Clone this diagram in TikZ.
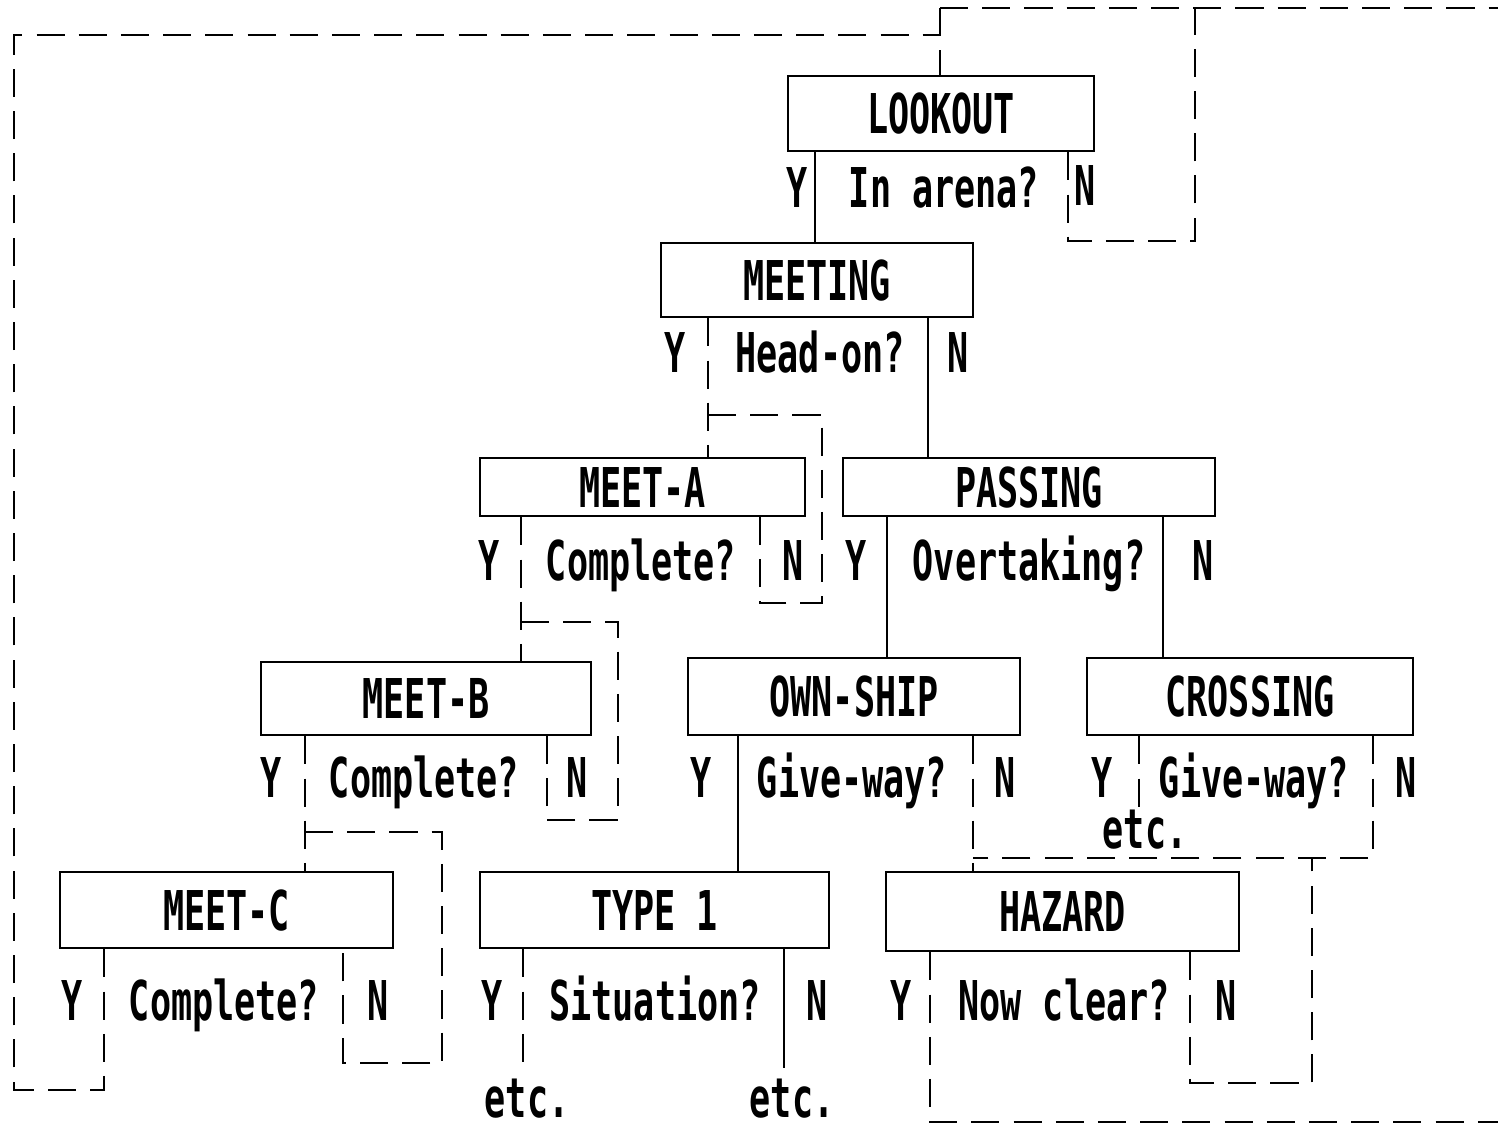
\documentclass[tikz,border=0pt]{standalone}
\usepackage{fontspec}
\newfontfamily\dmfont[FakeStretch=0.64]{DejaVu Sans Mono Bold}
\begin{document}
\begin{tikzpicture}[x=0.01cm,y=-0.01cm,
  box/.style={draw,line width=0.75pt,inner sep=0pt,font=\dmfont\fontsize{15.6}{16}\selectfont,text height=0.4cm,text depth=0pt},
  lbl/.style={inner sep=0pt,font=\dmfont\fontsize{15.6}{16}\selectfont,text height=0.4cm,text depth=0pt,anchor=center},
  sl/.style={line width=0.6pt},
  dl/.style={line width=0.6pt,dash pattern=on 8pt off 4pt}]
\useasboundingbox (0,0) rectangle (1498,1125);
% boxes
\node[box,minimum width=3.06cm,minimum height=0.75cm] (lookout) at (941,113.5) {LOOKOUT};
\node[box,minimum width=3.12cm,minimum height=0.74cm] (meeting) at (817,280) {MEETING};
\node[box,minimum width=3.25cm,minimum height=0.58cm] (meeta) at (642.5,487) {MEET-A};
\node[box,minimum width=3.72cm,minimum height=0.58cm] (passing) at (1029,487) {PASSING};
\node[box,minimum width=3.30cm,minimum height=0.73cm] (meetb) at (426,698.5) {MEET-B};
\node[box,minimum width=3.32cm,minimum height=0.77cm] (ownship) at (854,696.5) {OWN-SHIP};
\node[box,minimum width=3.26cm,minimum height=0.77cm] (crossing) at (1250,696.5) {CROSSING};
\node[box,minimum width=3.33cm,minimum height=0.76cm] (meetc) at (226.5,910) {MEET-C};
\node[box,minimum width=3.49cm,minimum height=0.76cm] (type1) at (654.5,910) {TYPE 1};
\node[box,minimum width=3.53cm,minimum height=0.79cm] (hazard) at (1062.5,911.5) {HAZARD};
% questions
\node[lbl] (q1) at (944,187) {In arena?};
\node[lbl] (q2) at (820,352) {Head-on?};
\node[lbl] (q3) at (641,560) {Complete?};
\node[lbl] (q4) at (1029,560) {Overtaking?};
\node[lbl] (q5) at (424,777) {Complete?};
\node[lbl] (q6) at (852,777) {Give-way?};
\node[lbl] (q7) at (1254,777) {Give-way?};
\node[lbl] (q8) at (224,1000) {Complete?};
\node[lbl] (q9) at (655,1000) {Situation?};
\node[lbl] (q10) at (1064,1000) {Now clear?};
% Y / N labels
\node[lbl] (y1) at (797,187) {Y}; \node[lbl] (n1) at (1085,185) {N};
\node[lbl] (y2) at (675,352) {Y}; \node[lbl] (n2) at (958,352) {N};
\node[lbl] (y3) at (489,560) {Y}; \node[lbl] (n3) at (793,560) {N};
\node[lbl] (y4) at (856,560) {Y}; \node[lbl] (n4) at (1203,560) {N};
\node[lbl] (y5) at (271,777) {Y}; \node[lbl] (n5) at (577,777) {N};
\node[lbl] (y6) at (701,777) {Y}; \node[lbl] (n6) at (1005,777) {N};
\node[lbl] (y7) at (1102,777) {Y}; \node[lbl] (n7) at (1406,777) {N};
\node[lbl] (y8) at (72,1000) {Y}; \node[lbl] (n8) at (378,1000) {N};
\node[lbl] (y9) at (492,1000) {Y}; \node[lbl] (n9) at (817,1000) {N};
\node[lbl] (y10) at (901,1000) {Y}; \node[lbl] (n10) at (1226,1000) {N};
% etc labels
\node[lbl] (etc1) at (1145,828) {etc.};
\node[lbl] (etc2) at (527,1097) {etc.};
\node[lbl] (etc3) at (792,1097) {etc.};
% coordinates
\coordinate (topL) at (940,8);
\coordinate (topR) at (1498,8);
\coordinate (botR) at (1498,1122);
% solid main paths
\draw[sl] (lookout.south -| 815,0) -- (meeting.north -| 815,0);
\draw[sl] (meeting.south -| 928,0) -- (passing.north -| 928,0);
\draw[sl] (passing.south -| 887,0) -- (ownship.north -| 887,0);
\draw[sl] (passing.south -| 1163,0) -- (crossing.north -| 1163,0);
\draw[sl] (ownship.south -| 738,0) -- (type1.north -| 738,0);
\draw[sl] (type1.south -| 784,0) -- (784,1068);
% dashed return paths
\draw[dl] (topL) -- (lookout.north -| topL);
\draw[dl] (topL) -- (topR);
\draw[dl] (meetc.south -| 104,0) -- (104,1090) -- (14,1090) -- (14,35) -- (940,35);
\draw[dl] (lookout.south -| 1068,0) -- (1068,241) -- (1195,241) -- (1195,8);
\draw[dl] (meeting.south -| 708,0) -- (meeta.north -| 708,0);
\draw[dl] (708,415) -- (822,415) -- (822,603) -- (760,603) -- (meeta.south -| 760,0);
\draw[dl] (meeta.south -| 521,0) -- (meetb.north -| 521,0);
\draw[dl] (521,622) -- (618,622) -- (618,820) -- (547,820) -- (meetb.south -| 547,0);
\draw[dl] (meetb.south -| 305,0) -- (meetc.north -| 305,0);
\draw[dl] (305,832) -- (442,832) -- (442,1063) -- (343,1063) -- (meetc.south -| 343,0);
\draw[dl] (ownship.south -| 973,0) -- (hazard.north -| 973,0);
\draw[dl] (crossing.south -| 1139,0) -- (1139,815);
\draw[dl] (crossing.south -| 1373,0) -- (1373,858) -- (973,858);
\draw[dl] (hazard.south -| 1190,0) -- (1190,1083) -- (1312,1083) -- (1312,858);
\draw[dl] (hazard.south -| 930,0) -- (930,1122) -- (botR);
\draw[dl] (type1.south -| 523,0) -- (523,1068);
\end{tikzpicture}
\end{document}
